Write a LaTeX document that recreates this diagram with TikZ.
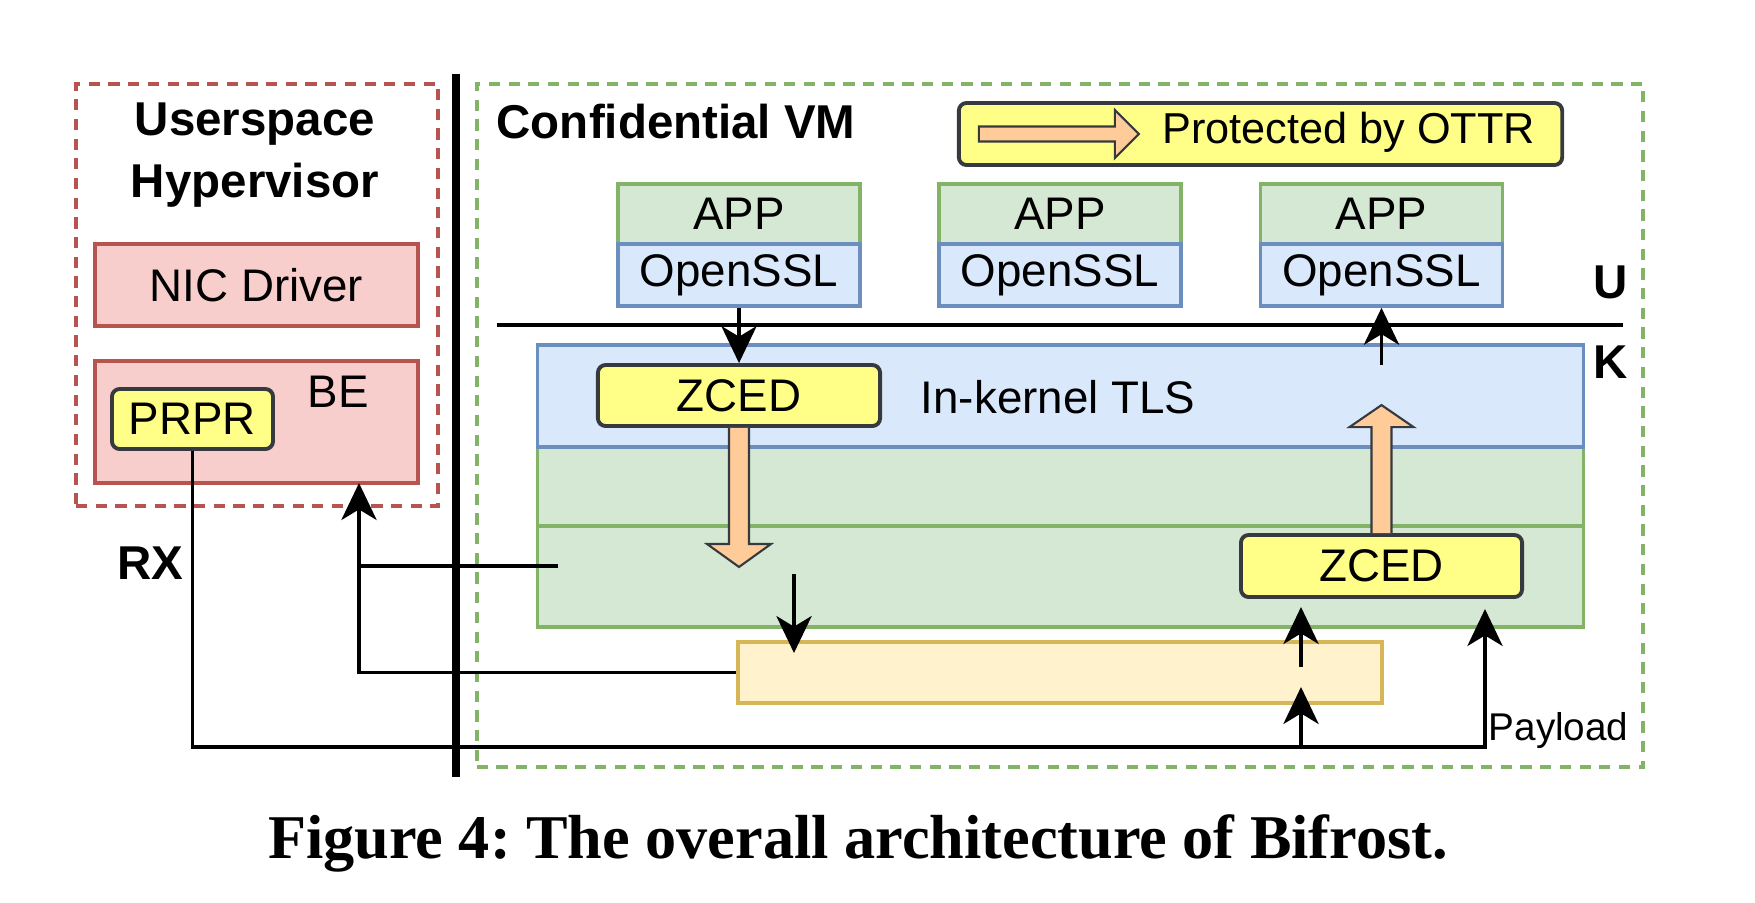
\documentclass[tikz,border=0pt]{standalone}
\usepackage{fontspec}
\setmainfont{Liberation Sans}
\newfontfamily\capfont{Liberation Serif}
\usetikzlibrary{arrows.meta}

\definecolor{hvfill}{HTML}{F8CECC}
\definecolor{hvline}{HTML}{B85450}
\definecolor{grfill}{HTML}{D5E8D4}
\definecolor{grline}{HTML}{82B366}
\definecolor{blfill}{HTML}{DAE8FC}
\definecolor{blline}{HTML}{6C8EBF}
\definecolor{yelfill}{HTML}{FFFF88}
\definecolor{darkline}{HTML}{36393D}
\definecolor{buffill}{HTML}{FFF2CC}
\definecolor{bufline}{HTML}{D6B656}
\definecolor{orfill}{HTML}{FFCC99}

\begin{document}
\begin{tikzpicture}[x=0.01cm, y=-0.01cm,
    every node/.style={inner sep=0pt, font=\fontsize{13}{15.6}\selectfont},
    region/.style={line width=1.1pt, dash pattern=on 3.2pt off 2.4pt},
    hvbox/.style={draw=hvline, fill=hvfill, line width=1pt, minimum width=3.23cm},
    appbox/.style={draw=grline, fill=grfill, line width=1pt, minimum width=2.42cm, minimum height=0.6cm},
    sslbox/.style={draw=blline, fill=blfill, line width=1pt, minimum width=2.42cm, minimum height=0.62cm},
    layer/.style={line width=1pt, minimum width=10.45cm},
    zced/.style={draw=darkline, fill=yelfill, line width=1.1pt, rounded corners=2.2pt},
    ottr/.style={draw=darkline, fill=orfill, line width=0.6pt},
    arr/.style={-{Stealth[length=10.5pt, width=10pt, inset=3pt]}, line width=1.1pt},
    title/.style={font=\fontsize{13.5}{17.6}\selectfont\bfseries}]
    \useasboundingbox (0,0) rectangle (1755,902);

    % hypervisor side
    \node[draw=hvline, region, minimum width=3.62cm, minimum height=4.22cm] (hv) at (257,295) {};
    \node[title, align=center] (hvtitle) at (255,155) {Userspace\\Hypervisor};
    \node[hvbox, minimum height=0.82cm] (nic) at (256.5,285) {NIC Driver};
    \node[hvbox, minimum height=1.22cm] (be) at (256.5,422) {};
    \node (betext) at (338,392) {BE};
    \node[zced, minimum width=1.61cm, minimum height=0.6cm] (prpr) at (192.5,419) {PRPR};
    \node[title] (rx) at (150,563) {RX};

    \coordinate (bartop) at (456,74);
    \coordinate (barbot) at (456,777);
    \draw[line width=2.2pt] (bartop) -- (barbot);

    % confidential VM
    \node[draw=grline, region, minimum width=11.66cm, minimum height=6.83cm] (cvm) at (1060,425.5) {};
    \node[title, anchor=west] (cvmtitle) at (496,122) {Confidential VM};

    % legend
    \node[zced, minimum width=6.03cm, minimum height=0.62cm] (leg) at (1260.5,134) {};
    \draw[ottr] ([xshift=0.22cm]leg.west) ++(0,-7.5) -- ++(136,0) -- ++(0,-16.5) -- ++(24,24)
        -- ++(-24,24) -- ++(0,-16.5) -- ++(-136,0) -- cycle;
    \node[font=\fontsize{12.3}{14}\selectfont] (legtext) at (1348.5,132) {Protected by OTTR};

    % applications
    \node[appbox] (app1) at (739,214) {APP};
    \node[sslbox] (ssl1) at (739,275) {OpenSSL};
    \node[appbox] (app2) at (1060,214) {APP};
    \node[sslbox] (ssl2) at (1060,275) {OpenSSL};
    \node[appbox] (app3) at (1381.5,214) {APP};
    \node[sslbox] (ssl3) at (1381.5,275) {OpenSSL};

    % user / kernel boundary
    \coordinate (ukl) at (497,325);
    \coordinate (ukr) at (1623,325);
    \draw[line width=1.1pt] (ukl) -- (ukr);
    \node[title] (ulabel) at (1611,282) {U};
    \node[title] (klabel) at (1611,362) {K};

    % kernel layers
    \node[layer, draw=grline, fill=grfill, minimum height=0.79cm] (rxl1) at (1060.5,486.5) {};
    \node[layer, draw=grline, fill=grfill, minimum height=1.01cm] (rxl2) at (1060.5,576.5) {};
    \node[layer, draw=blline, fill=blfill, minimum height=1.02cm] (tls) at (1060.5,396) {};
    \node (tlstext) at (1058,397) {In-kernel TLS};

    \node[zced, minimum width=2.82cm, minimum height=0.61cm] (zcedtx) at (739,395.5) {ZCED};
    \node[zced, minimum width=2.81cm, minimum height=0.62cm] (zcedrx) at (1381.5,566) {ZCED};

    \draw[ottr] (zcedtx.south) ++(-10,0) -- ++(0,116) -- ++(-22,0) -- ++(32,23) -- ++(32,-23)
        -- ++(-22,0) -- ++(0,-116);
    \draw[ottr] (zcedrx.north) ++(-10,0) -- ++(0,-106) -- ++(-22,0) -- ++(32,-22) -- ++(32,22)
        -- ++(-22,0) -- ++(0,106);

    \node[draw=bufline, fill=buffill, line width=1pt, minimum width=6.44cm, minimum height=0.61cm] (buf) at (1060,672.5) {};

    % data paths
    \draw[arr] (ssl1.south) -- (zcedtx.north);
    \coordinate (tlsup) at (1381.5,365);
    \draw[arr] (tlsup) -- (ssl3.south);
    \coordinate (dnfrom) at (794,574);
    \coordinate (dnto) at (794,653);
    \draw[arr] (dnfrom) -- (dnto);

    \coordinate (beup) at (359,483);
    \draw[arr] (buf.west) -| (beup);
    \coordinate (tend) at (558,566);
    \draw[line width=1.1pt] (tend) -- (tend -| beup);

    \coordinate (rxbot) at (1485,747);
    \coordinate (pay) at (1485,609);
    \draw[arr] (prpr.south) |- (rxbot) -- (pay);
    \coordinate (bfrom) at (1301,747);
    \coordinate (bto) at (1301,687);
    \draw[arr] (bfrom) -- (bto);
    \coordinate (afrom) at (1301,667);
    \coordinate (ato) at (1301,607);
    \draw[arr] (afrom) -- (ato);
    \node[anchor=base west, font=\fontsize{11}{13}\selectfont] (paylabel) at (1488,740) {Payload};

    \node[anchor=base, font=\capfont\fontsize{17.7}{20}\selectfont\bfseries] (caption) at (858,858)
        {\frenchspacing Figure 4: The overall architecture of Bifrost.};
\end{tikzpicture}
\end{document}
